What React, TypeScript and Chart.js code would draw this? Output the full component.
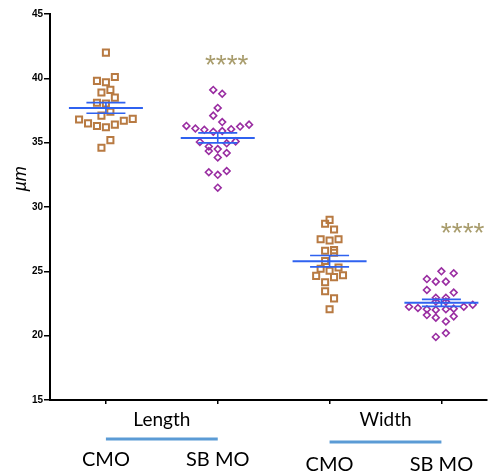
import React, { useEffect, useRef } from 'react';
import { Chart, registerables } from 'chart.js';

Chart.register(...registerables);

// ---- data ----
const groups = ['Length', 'Width'];
const conditions = ['CMO', 'SB MO'];
const categoryX = [1, 2, 3, 4]; // CMO-Length, SBMO-Length, CMO-Width, SBMO-Width

const lengthCMO: [number, number][] = [
  [1.0, 42.0], [0.92, 39.8], [1.0, 39.7], [1.08, 40.1], [0.96, 38.9], [1.04, 39.1],
  [1.08, 38.5], [0.92, 38.1], [1.0, 38.05], [1.04, 37.4], [0.96, 37.1], [0.76, 36.8],
  [0.84, 36.5], [0.92, 36.3], [1.0, 36.2], [1.08, 36.4], [1.16, 36.7], [1.24, 36.85],
  [1.04, 35.2], [0.96, 34.6],
];
const lengthSBMO: [number, number][] = [
  [1.96, 39.1], [2.04, 38.8], [2.0, 37.7], [1.96, 37.1], [2.04, 36.6], [1.72, 36.3],
  [1.8, 36.1], [1.88, 36.0], [1.96, 35.85], [2.04, 35.9], [2.12, 36.05], [2.2, 36.25],
  [2.28, 36.4], [1.84, 35.05], [2.08, 34.95], [2.16, 35.1], [1.92, 34.7], [1.92, 34.35],
  [2.0, 34.5], [2.08, 34.2], [2.0, 33.85], [1.92, 32.7], [2.0, 32.5], [2.08, 32.8],
  [2.0, 31.5],
];
const widthCMO: [number, number][] = [
  [3.0, 29.0], [2.96, 28.7], [3.04, 28.25], [2.92, 27.5], [3.0, 27.4], [3.08, 27.5],
  [2.96, 26.6], [3.04, 26.65], [3.04, 26.45], [2.96, 25.8], [2.92, 25.2], [3.0, 25.05],
  [3.08, 25.3], [2.88, 24.65], [3.04, 24.55], [3.12, 24.7], [2.96, 24.15], [2.96, 23.45],
  [3.04, 22.9], [3.0, 22.05],
];
const widthSBMO: [number, number][] = [
  [4.0, 25.0], [4.11, 24.85], [3.87, 24.4], [3.95, 24.2], [4.04, 24.2], [3.87, 23.55],
  [4.11, 23.35], [3.95, 22.95], [4.04, 22.95], [3.95, 22.65], [4.04, 22.65], [3.71, 22.25],
  [3.79, 22.15], [3.87, 22.05], [3.95, 22.0], [4.04, 22.05], [4.11, 22.1], [4.2, 22.25],
  [4.28, 22.4], [3.87, 21.6], [3.95, 21.4], [4.11, 21.5], [4.04, 21.1], [3.95, 19.9],
  [4.04, 20.2],
];

const means = [37.7, 35.37, 25.79, 22.55];
const sems = [0.41, 0.39, 0.44, 0.27];

const sigText = ['****', '****'];
const sigX = [2.08, 4.19];
const sigY = [41.6, 28.5];

const yTicks = [15, 20, 25, 30, 35, 40, 45];
const yTitle = 'µm';

const BROWN = '#b87a42';
const PURPLE = '#9a2ea2';
const BLUE = '#2f62f0';
const LIGHTBLUE = '#5b9bd5';
const OLIVE = '#a89c6c';
const LABEL_FONT = '"Lato", "Open Sans", sans-serif';

const toPts = (arr: [number, number][]) => arr.map(([x, y]) => ({ x, y }));

const overlayPlugin = {
  id: 'overlay',
  afterDatasetsDraw(chart: any) {
    const { ctx } = chart;
    const xs = chart.scales.x;
    const ys = chart.scales.y;
    ctx.save();
    // mean & SEM lines
    means.forEach((m, i) => {
      const cx = xs.getPixelForValue(categoryX[i]);
      const ym = ys.getPixelForValue(m);
      const yt = ys.getPixelForValue(m + sems[i]);
      const yb = ys.getPixelForValue(m - sems[i]);
      ctx.strokeStyle = BLUE;
      ctx.lineWidth = 2;
      ctx.beginPath();
      ctx.moveTo(cx - 37, ym);
      ctx.lineTo(cx + 37, ym);
      ctx.stroke();
      ctx.lineWidth = 1.6;
      ctx.beginPath();
      ctx.moveTo(cx - 19.5, yt);
      ctx.lineTo(cx + 19.5, yt);
      ctx.moveTo(cx - 19.5, yb);
      ctx.lineTo(cx + 19.5, yb);
      ctx.moveTo(cx, yt);
      ctx.lineTo(cx, yb);
      ctx.stroke();
    });
    // significance
    ctx.fillStyle = OLIVE;
    ctx.font = '28px "Liberation Sans", Arial, sans-serif';
    ctx.textAlign = 'center';
    ctx.textBaseline = 'alphabetic';
    sigText.forEach((t, i) => {
      const x = xs.getPixelForValue(sigX[i]);
      const y = ys.getPixelForValue(sigY[i]);
      ctx.fillText(t, x, y + 16);
    });
    ctx.restore();
  },
  afterDraw(chart: any) {
    const { ctx } = chart;
    const xs = chart.scales.x;
    const ys = chart.scales.y;
    const bottom = chart.chartArea.bottom;
    ctx.save();
    ctx.textAlign = 'center';
    ctx.textBaseline = 'middle';
    groups.forEach((g, gi) => {
      const x1 = xs.getPixelForValue(categoryX[gi * 2]);
      const x2 = xs.getPixelForValue(categoryX[gi * 2 + 1]);
      ctx.fillStyle = '#000';
      ctx.font = `19px ${LABEL_FONT}`;
      ctx.fillText(g, (x1 + x2) / 2, bottom + 20);
      ctx.strokeStyle = LIGHTBLUE;
      ctx.lineWidth = 3;
      ctx.beginPath();
      const ly = bottom + 39 + gi * 3;
      ctx.moveTo(x1, ly);
      ctx.lineTo(x2, ly);
      ctx.stroke();
      conditions.forEach((c, ci) => {
        const x = xs.getPixelForValue(categoryX[gi * 2 + ci]);
        ctx.fillStyle = '#000';
        ctx.font = `20px ${LABEL_FONT}`;
        ctx.fillText(c, x, bottom + 60 + gi * 5);
      });
    });
    // y title
    ctx.save();
    const ty = (ys.getPixelForValue(30) + ys.getPixelForValue(35)) / 2 + 4;
    ctx.translate(21, ty);
    ctx.rotate(-Math.PI / 2);
    ctx.font = 'italic 18px "Liberation Sans", Arial, sans-serif';
    ctx.fillStyle = '#000';
    ctx.fillText(yTitle, 0, 0);
    ctx.restore();
    ctx.restore();
  },
};

export default function App() {
  const ref = useRef<HTMLCanvasElement | null>(null);
  useEffect(() => {
    document.body.style.margin = '0';
    const canvas = ref.current!;
    const chart = new Chart(canvas, {
      type: 'scatter',
      data: {
        datasets: [
          { label: 'Length CMO', data: toPts(lengthCMO), pointStyle: 'rect', radius: 4.3, borderColor: BROWN, backgroundColor: 'rgba(0,0,0,0)', borderWidth: 2 },
          { label: 'Length SB MO', data: toPts(lengthSBMO), pointStyle: 'rectRot', radius: 3.4, borderColor: PURPLE, backgroundColor: 'rgba(0,0,0,0)', borderWidth: 1.6 },
          { label: 'Width CMO', data: toPts(widthCMO), pointStyle: 'rect', radius: 4.3, borderColor: BROWN, backgroundColor: 'rgba(0,0,0,0)', borderWidth: 2 },
          { label: 'Width SB MO', data: toPts(widthSBMO), pointStyle: 'rectRot', radius: 3.4, borderColor: PURPLE, backgroundColor: 'rgba(0,0,0,0)', borderWidth: 1.6 },
        ] as any,
      },
      options: {
        responsive: false,
        animation: false,
        layout: { padding: { top: 14, right: 0, left: 0, bottom: 0 } },
        plugins: { legend: { display: false }, tooltip: { enabled: false } },
        scales: {
          x: {
            type: 'linear',
            min: 0.5,
            max: 4.405,
            afterBuildTicks: (s: any) => { s.ticks = categoryX.map((v) => ({ value: v })); },
            afterFit: (s: any) => { s.height = 74; },
            ticks: { display: false },
            grid: { drawOnChartArea: false, drawTicks: true, tickLength: 4, color: '#000', lineWidth: 1.5 },
            border: { color: '#000', width: 2 },
          },
          y: {
            type: 'linear',
            min: 15,
            max: 45,
            afterBuildTicks: (s: any) => { s.ticks = yTicks.map((v) => ({ value: v })); },
            afterFit: (s: any) => { s.width = 50; },
            ticks: { color: '#000', padding: 1, font: { family: '"Liberation Sans", Arial, sans-serif', size: 10, weight: 'bold' } },
            grid: { drawOnChartArea: false, drawTicks: true, tickLength: 6, color: '#000', lineWidth: 1.5 },
            border: { color: '#000', width: 2 },
          },
        },
      } as any,
      plugins: [overlayPlugin],
    });
    return () => chart.destroy();
  }, []);
  return <canvas ref={ref} width={493} height={474} style={{ display: 'block' }} />;
}
